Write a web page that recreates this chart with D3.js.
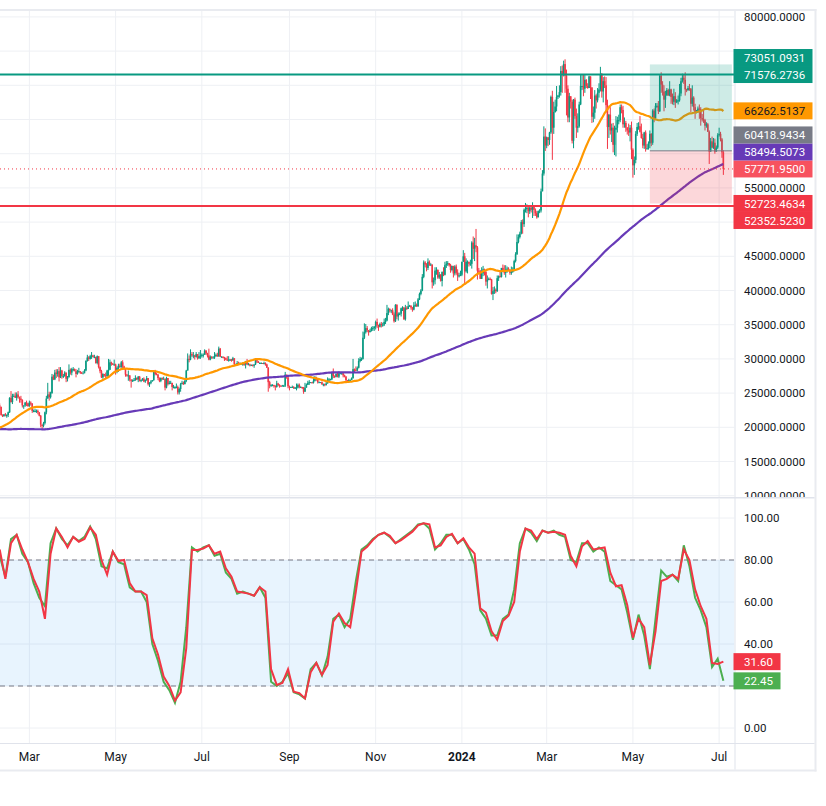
<!DOCTYPE html>
<html>
<head>
<meta charset="utf-8">
<script src="https://cdn.jsdelivr.net/npm/d3@7"></script>
<style>
  body { margin: 0; background: #fff; }
  svg text { font-family: Roboto, "Liberation Sans", sans-serif; }
</style>
</head>
<body>
<div id="chart"></div>
<script>
// ---------------- data (prices in thousand USD, daily) ----------------
var startDate = "2023-02-08";

// closes before the first visible bar (2022-07-24 .. 2023-02-07), only used for the moving averages
var priorCloses = [
  22.6,22.0,21.3,22.9,23.8,23.8,23.6,23.3,
  23.3,22.9,22.8,22.6,23.3,23.2,23.2,23.8,23.2,23.9,23.9,24.4,24.4,24.3,24.1,24.0,23.3,23.2,21.1,21.5,21.5,21.4,21.5,21.4,21.6,20.3,20.0,19.6,20.3,19.8,20.0,
  20.1,19.9,19.8,20.0,19.8,18.8,19.3,19.3,21.4,21.8,21.8,22.4,20.2,20.2,19.7,19.8,20.1,19.4,19.5,19.0,18.5,19.4,19.3,18.9,18.8,19.2,19.1,19.4,19.5,19.4,
  19.3,19.1,19.6,20.3,20.2,19.9,19.5,19.4,19.4,19.1,19.0,19.2,19.4,19.2,19.1,19.3,19.5,19.3,19.1,19.0,19.2,19.2,19.6,19.3,20.1,20.8,20.3,20.6,20.8,20.6,20.5,
  20.5,20.2,20.2,21.2,21.3,20.9,20.6,18.5,15.9,17.6,17.0,16.8,16.3,16.6,16.9,16.7,16.7,16.7,16.7,16.3,15.8,16.2,16.6,16.6,16.5,16.5,16.5,16.2,16.4,17.2,
  17.0,17.1,16.9,17.1,17.0,17.1,16.8,17.2,17.1,17.2,17.1,17.2,17.8,17.8,17.4,16.6,16.8,16.8,16.4,16.9,16.8,16.8,16.8,16.8,16.8,16.9,16.7,16.5,16.6,16.6,16.5,
  16.6,16.7,16.7,16.9,16.8,16.9,16.9,17.1,17.2,17.4,17.9,18.9,19.9,20.9,20.9,21.2,21.1,20.7,21.1,22.7,22.8,22.7,22.9,22.6,23.1,23.0,23.1,23.0,23.7,22.8,23.1,
  23.7,23.5,23.4,23.3,22.9,22.8,23.2
];

var closes = [
  23.0,21.8,21.6,21.9,21.8,21.8,22.2,24.3,23.7,24.6,24.6,24.3,24.8,24.4,24.2,24.0,23.2,23.2,23.6,23.5,23.1,
  23.6,23.5,22.4,22.4,22.4,22.4,22.2,21.7,20.4,20.2,20.6,22.2,24.2,24.8,24.4,25.0,27.4,27.0,28.0,27.8,28.2,27.3,28.3,27.5,27.5,28.0,27.1,27.3,28.4,28.0,28.5,
  28.5,28.2,27.8,28.2,28.2,28.0,27.9,27.9,28.3,29.7,30.2,30.0,30.4,30.5,30.3,30.3,29.4,30.4,28.8,28.2,27.3,27.8,27.6,27.5,28.3,28.4,29.5,29.3,29.2,29.2,
  28.1,28.7,29.0,28.8,29.5,28.9,28.5,27.7,27.6,27.6,27.0,26.8,26.8,26.9,27.2,27.0,27.4,26.8,26.9,27.1,26.7,26.9,27.2,26.3,26.5,26.7,26.9,28.1,27.8,27.7,27.2,
  26.8,27.2,27.1,27.1,25.8,27.2,26.3,26.5,26.5,25.9,25.9,25.9,25.9,25.1,25.6,26.3,26.5,26.3,26.8,28.3,30.0,29.9,30.7,30.5,30.5,30.3,30.7,30.1,30.4,30.5,
  30.6,30.6,31.2,30.8,30.5,29.9,30.3,30.2,30.2,30.4,30.6,30.4,31.5,30.3,30.3,30.2,30.1,29.9,29.8,29.9,29.9,29.8,30.1,29.2,29.2,29.4,29.2,29.3,29.3,29.3,29.2,
  29.7,29.2,29.2,29.1,29.1,29.0,29.2,29.8,29.6,29.4,29.4,29.4,29.3,29.4,29.2,28.7,26.6,26.1,26.2,26.2,26.1,25.9,26.4,26.2,26.1,26.0,26.1,26.1,27.7,27.3,26.0,
  25.8,25.9,25.9,25.8,25.8,25.8,26.2,25.9,25.9,25.8,25.2,25.8,26.2,26.5,26.6,26.6,26.5,26.8,27.2,27.1,26.6,26.6,26.6,26.3,26.3,26.2,26.4,27.0,27.0,27.0,
  28.0,27.5,27.4,27.8,27.4,27.9,27.9,27.9,27.6,27.4,26.9,26.8,26.9,26.9,27.2,28.5,28.4,28.3,28.7,29.7,30.0,30.0,33.1,33.9,34.5,34.2,33.9,34.1,34.5,34.5,34.7,
  35.4,34.9,34.7,35.1,35.0,35.0,35.4,35.6,36.7,37.3,37.1,37.1,36.5,35.5,37.9,36.2,36.6,36.6,37.4,37.5,35.8,37.4,37.3,37.7,37.8,37.5,37.2,37.8,37.9,37.7,
  38.7,39.5,40.0,42.0,44.1,43.8,43.3,44.2,43.8,43.8,41.2,41.5,42.9,43.0,41.9,42.3,41.4,42.7,42.3,43.7,43.9,44.0,43.7,43.0,43.6,42.5,43.5,42.6,42.1,42.2,42.3,
  44.2,45.0,42.8,44.2,44.2,43.9,43.9,47.0,46.1,46.6,46.3,42.9,42.8,41.7,42.5,43.1,42.7,41.3,41.6,41.7,41.6,39.5,39.9,40.1,39.9,41.8,42.1,42.0,43.3,42.9,42.6,
  43.1,43.2,43.0,42.6,42.7,43.1,44.3,45.3,47.1,47.8,48.3,50.0,49.7,51.8,51.9,52.1,51.6,52.1,51.8,52.3,51.8,51.3,50.7,51.6,51.7,54.5,57.1,62.5,61.2,
  62.4,62.0,63.1,68.3,63.8,66.1,66.9,68.3,68.5,69.0,72.1,71.5,73.1,71.4,69.5,65.3,68.4,67.6,61.9,67.9,65.5,63.8,64.0,67.2,69.9,69.9,69.5,70.8,69.9,69.6,71.3,
  69.7,65.4,66.0,68.5,67.8,68.9,69.4,71.6,69.1,70.6,70.0,67.1,63.9,65.7,63.4,63.8,61.3,63.5,63.8,64.9,64.9,66.8,66.4,64.3,64.5,63.8,63.4,63.1,63.8,60.6,
  58.3,59.1,62.9,63.9,64.0,63.2,62.3,61.2,63.1,60.8,60.8,61.5,62.9,61.6,66.3,65.2,67.0,67.0,66.2,71.4,70.1,69.1,67.9,68.5,69.3,68.5,69.4,68.3,67.6,68.4,67.5,
  67.8,67.8,68.8,70.6,71.1,70.8,69.4,69.3,69.6,69.5,67.3,68.2,66.8,66.0,66.2,66.6,66.5,65.2,65.0,64.9,64.1,64.3,63.2,60.3,61.8,60.9,61.6,60.3,60.9,62.7,
  62.9,62.1,60.2,57.77195
];

var highs = [
  23.5,23.0,21.9,21.9,22.1,21.9,22.3,24.4,25.3,24.9,24.9,25.1,25.1,25.3,24.5,24.6,24.1,23.2,23.7,23.9,23.6,
  23.9,23.8,23.5,22.6,22.7,22.6,22.6,22.2,21.8,20.4,20.8,22.3,24.6,26.5,25.2,25.2,27.8,27.7,28.4,28.5,28.5,28.8,28.8,28.4,27.8,28.2,28.0,27.5,29.2,28.6,28.7,
  28.8,28.6,28.5,28.4,28.7,28.2,28.1,28.2,28.5,29.8,30.6,30.4,30.6,31.0,30.6,30.6,30.3,30.5,30.4,28.9,28.4,27.9,27.8,28.0,28.4,30.0,29.9,29.6,29.4,29.9,
  29.3,28.9,29.3,29.3,29.7,29.8,29.0,28.6,27.8,28.3,27.6,26.9,27.0,27.2,27.6,27.3,27.5,27.5,27.0,27.2,27.3,27.0,27.5,27.2,26.6,26.9,26.9,28.2,28.4,28.0,27.8,
  27.3,27.3,27.3,27.4,27.1,27.4,27.2,26.8,26.8,26.5,26.2,26.0,26.4,26.1,25.8,26.5,26.8,26.7,26.9,28.4,30.8,30.5,31.4,31.0,31.0,30.6,31.0,30.7,31.0,31.3,
  30.8,30.8,31.4,31.3,30.9,31.5,30.5,30.4,30.4,31.0,30.8,30.9,31.8,31.6,30.4,30.4,30.3,30.2,30.4,30.4,30.0,30.0,30.3,30.1,29.3,29.7,29.6,29.5,29.4,29.5,29.5,
  29.7,30.0,29.4,29.3,29.2,29.2,29.2,30.1,30.0,29.7,29.5,29.5,29.4,29.6,29.5,29.3,28.8,26.8,26.3,26.3,26.2,26.1,26.8,26.5,26.3,26.1,26.2,26.2,28.1,27.6,27.5,
  26.1,25.9,26.1,26.0,25.9,26.4,26.4,26.4,26.0,25.9,25.9,26.5,26.4,26.8,26.9,26.6,26.6,27.4,27.5,27.4,27.2,26.7,26.6,26.7,26.4,26.4,26.8,27.3,27.2,27.1,
  28.0,28.6,27.6,27.9,28.1,28.2,28.0,28.1,27.9,27.7,27.5,26.9,27.1,27.0,27.3,30.0,28.6,28.9,28.9,30.1,30.3,30.2,34.0,35.2,35.1,34.8,34.2,34.4,34.7,34.8,34.8,
  35.6,35.9,35.0,35.3,35.4,35.3,35.9,36.0,37.9,37.5,37.4,37.2,37.4,36.8,38.0,38.0,36.8,36.8,37.5,37.7,37.6,37.9,37.7,38.4,37.9,37.8,37.6,38.3,38.4,38.1,
  38.9,39.7,40.2,42.4,44.4,44.3,44.0,44.7,44.4,44.0,43.8,41.9,43.4,43.4,43.1,42.7,42.4,42.8,43.4,44.2,44.3,44.3,44.0,43.9,43.6,43.6,43.7,43.8,43.1,42.6,42.9,
  44.2,45.9,45.5,44.7,44.4,44.2,44.5,47.2,47.9,47.7,49.0,46.5,43.3,43.0,43.4,43.6,43.2,42.9,42.2,41.9,41.9,41.7,40.5,40.6,40.3,42.2,42.2,42.8,43.3,43.8,43.7,
  43.7,43.5,43.4,43.1,43.5,43.4,44.5,45.6,48.2,48.2,48.6,50.3,50.4,52.0,52.8,52.6,52.2,52.3,52.5,52.9,52.4,52.0,51.6,51.7,51.9,54.9,57.6,64.0,63.7,
  62.5,62.4,63.2,68.5,69.2,67.6,67.9,69.9,68.6,70.0,72.8,72.9,73.6,73.8,72.3,70.0,68.9,68.1,67.9,68.0,68.2,66.6,65.9,67.6,71.5,71.5,71.6,71.5,70.9,70.3,71.4,
  71.3,69.7,66.9,69.3,68.7,69.6,70.3,72.7,71.8,71.2,71.3,71.2,67.9,65.8,66.8,64.4,64.5,64.1,65.5,65.4,65.7,67.2,67.2,67.0,65.3,64.8,63.9,64.4,64.2,64.7,
  60.8,59.6,63.3,64.5,64.6,65.5,64.4,62.9,63.2,63.4,61.4,61.8,63.4,63.0,66.5,66.6,67.4,67.4,67.7,71.5,71.9,70.6,70.0,69.2,69.6,69.5,70.6,69.5,68.8,69.5,69.0,
  68.0,68.5,70.2,71.1,71.7,71.6,71.9,69.5,69.9,70.2,69.6,70.0,68.4,67.3,66.4,66.9,67.2,66.8,65.8,66.5,65.1,64.6,64.5,63.4,62.3,62.5,62.3,62.2,61.2,63.0,
  63.8,63.2,62.3,60.5
];

var lows = [
  22.7,21.7,21.5,21.6,21.6,21.4,21.5,22.1,23.6,23.4,24.5,24.3,23.9,24.2,23.6,23.6,22.9,22.7,23.0,23.1,23.0,
  23.0,23.2,22.1,22.2,22.2,22.1,21.9,21.6,20.0,19.6,20.0,20.4,21.9,24.2,23.9,24.2,24.9,26.9,26.9,27.2,27.4,26.7,27.2,27.1,27.2,27.4,26.6,26.7,27.3,27.7,27.6,
  28.2,28.2,27.3,27.7,28.0,27.8,27.8,27.9,28.0,28.2,29.6,29.7,29.9,30.0,30.2,30.1,29.3,29.2,28.6,27.9,27.2,27.1,27.4,27.1,27.2,27.3,28.4,29.0,29.1,29.0,
  27.7,27.9,28.1,28.7,28.7,28.4,28.4,27.4,27.4,26.8,26.7,25.8,26.7,26.8,26.8,26.9,26.6,26.7,26.6,26.8,26.6,26.5,26.8,26.1,25.9,26.3,26.7,26.8,27.6,27.6,26.9,
  26.6,26.6,26.9,27.0,25.4,25.7,26.1,26.3,26.4,25.4,25.7,25.6,25.7,24.8,24.8,25.2,26.3,26.2,26.3,26.6,28.3,29.5,29.8,30.3,30.1,29.9,30.2,29.9,30.0,30.0,
  30.2,30.2,30.6,30.6,30.2,29.8,29.8,30.0,30.1,30.0,30.3,30.3,30.3,30.3,30.2,30.1,29.7,29.8,29.7,29.6,29.7,29.6,29.7,29.0,29.0,29.1,29.1,29.1,29.3,29.0,29.0,
  28.6,29.1,29.1,28.9,29.0,28.9,28.7,29.1,29.4,29.4,29.3,29.3,29.3,29.2,29.0,28.7,25.2,25.7,25.9,26.0,25.8,25.4,25.8,26.0,25.8,25.9,26.0,25.9,25.9,27.1,25.7,
  25.4,25.8,25.8,25.6,25.6,25.4,25.7,25.7,25.8,25.6,24.9,25.2,25.8,26.2,26.2,26.5,26.4,26.4,26.7,26.8,26.4,26.5,26.5,26.2,26.0,26.0,26.1,26.4,26.7,26.9,
  26.9,27.2,27.2,27.3,27.3,27.2,27.8,27.7,27.3,27.3,26.6,26.6,26.7,26.8,26.9,27.1,28.1,28.2,28.2,28.6,29.5,29.7,29.9,32.9,33.7,33.9,33.4,33.9,34.0,34.1,34.1,
  34.3,34.5,34.1,34.6,34.6,34.7,34.8,35.1,35.5,36.4,36.8,36.7,36.4,35.3,35.4,35.8,35.6,36.4,36.2,37.0,35.7,35.6,37.2,37.3,37.6,37.2,36.9,37.1,37.6,37.6,
  37.6,38.6,39.3,39.9,41.8,43.4,42.8,43.0,43.6,43.6,40.3,40.7,40.9,42.3,41.7,41.7,41.3,40.6,42.1,42.2,43.3,43.6,43.5,42.6,42.8,41.9,42.2,42.3,41.4,41.9,42.1,
  42.1,44.2,40.8,42.6,42.5,43.5,43.6,43.2,44.6,44.3,45.6,41.6,42.4,41.7,41.7,42.1,42.2,40.7,40.3,41.5,41.5,39.4,38.6,39.5,39.6,39.8,41.4,41.9,41.9,42.7,42.3,
  41.9,42.6,42.9,42.3,42.3,42.6,42.8,44.1,45.2,46.9,47.6,48.2,48.3,49.3,51.4,51.3,50.7,51.2,51.4,50.6,50.9,50.9,50.5,50.9,51.3,51.4,54.5,56.8,60.4,
  60.8,61.1,61.3,62.9,59.1,62.9,66.0,66.2,68.0,68.2,68.5,68.9,71.3,68.9,65.6,64.6,64.6,66.6,61.5,60.8,65.1,62.3,63.1,63.8,67.1,69.3,68.4,68.9,69.6,69.5,69.6,
  68.0,64.5,64.6,65.1,66.6,67.5,68.2,69.1,68.2,67.5,69.6,66.0,60.7,62.3,62.8,61.7,60.2,59.8,59.6,63.1,64.3,64.6,65.9,63.8,63.8,63.2,62.8,62.6,61.8,59.2,
  56.5,56.9,58.6,62.6,63.5,63.1,62.2,60.8,60.7,60.3,60.6,60.6,60.8,61.1,61.3,64.6,65.0,66.7,65.8,66.1,68.9,68.5,66.2,66.7,68.5,68.5,68.4,67.3,67.2,67.1,66.7,
  67.4,67.2,67.6,68.4,70.4,70.2,68.5,69.0,69.2,69.2,66.1,66.9,66.3,65.1,65.9,66.0,65.1,64.1,64.7,64.5,63.4,63.8,63.2,58.5,60.7,60.8,60.7,60.0,60.3,60.7,
  62.5,61.8,59.4,56.9
];

// Stoch RSI read every 4 days from the first bar
var stochStep = 4;
var stochK = [
  82,72,90,92,83,79,69,62,58,88, 95,90,87,91,89,91,96,90,77,76,
  84,79,78,67,65,65,60,40,32,22, 18,12,22,48,86,84,86,87,82,83,
  74,71,64,65,64,63,67,62,22,20, 22,26,17,16,14,28,31,25,34,52,
  54,48,52,70,85,87,90,92,93,91, 88,90,92,94,97,97.5,95,85,88,92,
  92,88,90,85,78,56,52,44,44,52, 54,66,88,95,93,89,94,93,94,92,
  91,80,79,88,88,84,86,84,70,68, 66,55,42,54,44,28,52,75,72,73,
  70,87,77,62,56,48,29,33,22.45
];
var stochD = [
  85,71,88,92,85,79,71,65,52,83, 95,91,86,91,88.7,90,95.5,92,80,73,
  84,79.5,80,69,65,65,63.3,42.7,35,24.5, 20,13,17,38,84.8,84.8,85.5,87,83,84,
  76,72,65,64.5,64,63,67,65,28,20.5, 21.5,28,17.3,16.6,14.1,26.5,31,25.3,30,50.6,
  54.5,50,48,65,84,86.3,89.5,92,93,91.5, 88,89.5,91.5,93.5,96.5,97.5,97,86,87,91,
  92.5,88,90.3,86,83,57,55,46,42,51, 53.5,60,84,95,94,90,94,93,93.5,93,
  92,82,77,86.5,89,85,85.5,86,74,67.5, 68,58.6,43,52,48,30,46,70,71,73,
  71,85,80,66,58,52,31,30.5,31.60
];

// drawn levels and the long position tool
var resistance = 71576.2736;
var support = 52352.5230;
var positionStart = "2024-05-13", positionEnd = "2024-07-10";
var entryPrice = 60418.9434, targetPrice = 73051.0931, stopPrice = 52723.4634;

// values shown on the price scale (in placement priority order)
var labelValues = [71576.2736, 57771.9500, 52723.4634, 73051.0931, 52352.5230, 58494.5073, 60418.9434, 66262.5137];
var stochLabelValues = [31.60, 22.45];

var priceTicks = d3.range(10000, 80001, 5000);
var stochTicks = [0, 20, 40, 60, 80, 100];
var timeTicks = ["2023-03-01","2023-05-01","2023-07-01","2023-09-01","2023-11-01","2024-01-01","2024-03-01","2024-05-01","2024-07-01"];

// ---------------- layout ----------------
var width = 826, height = 806;
var plotRight = 734.5, frameRight = 814.5;
var mainTop = 11, mainBottom = 497;
var stochTop = 499, stochBottom = 743;

var parseDate = d3.utcParse("%Y-%m-%d");
var day0 = parseDate(startDate);
var lastDay = d3.utcDay.offset(day0, closes.length - 1);

var x = d3.scaleUtc().domain([day0, lastDay]).range([-0.3, -0.3 + (closes.length - 1) * 1.4134]);
var y = d3.scaleLinear().domain([10000, 80000]).range([495.7, 16.9]);
var ys = d3.scaleLinear().domain([0, 100]).range([728, 518]);

var allCloses = priorCloses.concat(closes);
var n0 = priorCloses.length;

var candles = closes.map(function(c, i) {
  var o = allCloses[n0 + i - 1];
  return {
    date: d3.utcDay.offset(day0, i),
    open: o * 1000,
    close: c * 1000,
    high: Math.max(highs[i], o, c) * 1000,
    low: Math.min(lows[i], o, c) * 1000
  };
});

function sma(len) {
  return closes.map(function(c, i) {
    var j = n0 + i;
    return { date: candles[i].date, value: d3.mean(allCloses.slice(j - len + 1, j + 1)) * 1000 };
  });
}
var ma50 = sma(50), ma200 = sma(200);

var svg = d3.select("#chart").append("svg")
  .attr("width", width)
  .attr("height", height);

var defs = svg.append("defs");
defs.append("clipPath").attr("id", "clipMain")
  .append("rect").attr("x", 0).attr("y", mainTop).attr("width", plotRight).attr("height", mainBottom - mainTop);
defs.append("clipPath").attr("id", "clipStoch")
  .append("rect").attr("x", 0).attr("y", stochTop).attr("width", plotRight).attr("height", stochBottom - stochTop);
defs.append("clipPath").attr("id", "clipMainAxis")
  .append("rect").attr("x", plotRight).attr("y", mainTop).attr("width", frameRight - plotRight).attr("height", mainBottom - mainTop);

svg.append("rect").attr("width", width).attr("height", height).attr("fill", "#fff");

// frame
var frameColor = "#e9ebf0";
svg.append("rect").attr("x", 0).attr("y", 9).attr("width", frameRight + 2).attr("height", 2).attr("fill", frameColor);
svg.append("rect").attr("x", 0).attr("y", 769.5).attr("width", frameRight + 2).attr("height", 2).attr("fill", frameColor);
svg.append("rect").attr("x", frameRight).attr("y", 9).attr("width", 2).attr("height", 762.5).attr("fill", frameColor);

var gridColor = "#eef0f4";

// ---- main pane ----
var main = svg.append("g").attr("clip-path", "url(#clipMain)");

main.selectAll(".hgrid").data(priceTicks).enter().append("line")
  .attr("x1", 0).attr("x2", plotRight)
  .attr("y1", function(d) { return y(d); }).attr("y2", function(d) { return y(d); })
  .attr("stroke", gridColor).attr("stroke-width", 1);

main.selectAll(".vgrid").data(timeTicks).enter().append("line")
  .attr("x1", function(d) { return x(parseDate(d)); }).attr("x2", function(d) { return x(parseDate(d)); })
  .attr("y1", mainTop).attr("y2", mainBottom)
  .attr("stroke", gridColor).attr("stroke-width", 1);

// candles
var upColor = "#089981", downColor = "#F23645";
var candleG = main.append("g");
candleG.selectAll(".wick").data(candles).enter().append("rect")
  .attr("x", function(d) { return x(d.date) - 0.5; })
  .attr("width", 1)
  .attr("y", function(d) { return y(d.high); })
  .attr("height", function(d) { return Math.max(0.5, y(d.low) - y(d.high)); })
  .attr("fill", function(d) { return d.close >= d.open ? upColor : downColor; });
candleG.selectAll(".body").data(candles).enter().append("rect")
  .attr("x", function(d) { return x(d.date) - 0.8; })
  .attr("width", 1.6)
  .attr("y", function(d) { return y(Math.max(d.open, d.close)); })
  .attr("height", function(d) { return Math.max(1, Math.abs(y(d.open) - y(d.close))); })
  .attr("fill", function(d) { return d.close >= d.open ? upColor : downColor; });

// moving averages
var maLine = d3.line()
  .x(function(d) { return x(d.date); })
  .y(function(d) { return y(d.value); });

main.append("path").datum(ma200)
  .attr("d", maLine).attr("fill", "none")
  .attr("stroke", "#673AB7").attr("stroke-width", 2.2);
main.append("path").datum(ma50)
  .attr("d", maLine).attr("fill", "none")
  .attr("stroke", "#FF9800").attr("stroke-width", 2.2);

// long position tool
var px0 = x(parseDate(positionStart)), px1 = x(parseDate(positionEnd));
main.append("rect")
  .attr("x", px0).attr("width", px1 - px0)
  .attr("y", y(targetPrice)).attr("height", y(entryPrice) - y(targetPrice))
  .attr("fill", "rgba(8,153,129,0.2)");
main.append("rect")
  .attr("x", px0).attr("width", px1 - px0)
  .attr("y", y(entryPrice)).attr("height", y(stopPrice) - y(entryPrice))
  .attr("fill", "rgba(242,54,69,0.2)");
main.append("line")
  .attr("x1", px0).attr("x2", px1)
  .attr("y1", y(entryPrice)).attr("y2", y(entryPrice))
  .attr("stroke", "#787B86").attr("stroke-width", 1);

// horizontal levels
main.append("line")
  .attr("x1", 0).attr("x2", plotRight)
  .attr("y1", y(resistance)).attr("y2", y(resistance))
  .attr("stroke", "#089981").attr("stroke-width", 2);
main.append("line")
  .attr("x1", 0).attr("x2", plotRight)
  .attr("y1", y(support)).attr("y2", y(support))
  .attr("stroke", "#F23645").attr("stroke-width", 2);

// last price line
var lastPrice = candles[candles.length - 1].close;
main.append("line")
  .attr("x1", 0).attr("x2", plotRight)
  .attr("y1", y(lastPrice)).attr("y2", y(lastPrice))
  .attr("stroke", "#F23645").attr("stroke-width", 1)
  .attr("stroke-dasharray", "1,3");

// ---- stoch rsi pane ----
var stoch = svg.append("g").attr("clip-path", "url(#clipStoch)");

stoch.selectAll(".hgrid").data(stochTicks).enter().append("line")
  .attr("x1", 0).attr("x2", plotRight)
  .attr("y1", function(d) { return ys(d); }).attr("y2", function(d) { return ys(d); })
  .attr("stroke", gridColor).attr("stroke-width", 1);
stoch.selectAll(".vgrid").data(timeTicks).enter().append("line")
  .attr("x1", function(d) { return x(parseDate(d)); }).attr("x2", function(d) { return x(parseDate(d)); })
  .attr("y1", stochTop).attr("y2", stochBottom)
  .attr("stroke", gridColor).attr("stroke-width", 1);

stoch.append("rect")
  .attr("x", 0).attr("width", plotRight)
  .attr("y", ys(80)).attr("height", ys(20) - ys(80))
  .attr("fill", "rgba(33,150,243,0.1)");
stoch.selectAll(".band").data([80, 20]).enter().append("line")
  .attr("x1", 0).attr("x2", plotRight)
  .attr("y1", function(d) { return ys(d); }).attr("y2", function(d) { return ys(d); })
  .attr("stroke", "#787B86").attr("stroke-width", 1)
  .attr("stroke-dasharray", "5,4");

var stochLine = d3.line()
  .x(function(d, i) { return x(d3.utcDay.offset(day0, i * stochStep)); })
  .y(function(d) { return ys(d); });

stoch.append("path").datum(stochK)
  .attr("d", stochLine).attr("fill", "none")
  .attr("stroke", "#4CAF50").attr("stroke-width", 2);
stoch.append("path").datum(stochD)
  .attr("d", stochLine).attr("fill", "none")
  .attr("stroke", "#F23645").attr("stroke-width", 2);

// ---- axes and separators ----
svg.append("rect").attr("x", 0).attr("y", mainBottom).attr("width", frameRight).attr("height", 1.5).attr("fill", "#e0e3eb");
svg.append("rect").attr("x", 0).attr("y", stochBottom).attr("width", frameRight).attr("height", 1).attr("fill", "#e0e3eb");
svg.append("rect").attr("x", plotRight).attr("y", mainTop).attr("width", 1).attr("height", 769.5 - mainTop).attr("fill", "#e0e3eb");

var textColor = "#131722";
var fmt4 = d3.format(".4f"), fmt2 = d3.format(".2f");

// ---- price scale labels (placed first so covered ticks can be dropped) ----
var labelColors = ["#089981", "#F7525F", "#F23645", "#089981", "#F23645", "#673AB7", "#787B86", "#FF9800"];
var labelTextColors = ["#fff", "#fff", "#fff", "#fff", "#fff", "#fff", "#fff", "#131722"];
var labelH = 17;

function placeLabels(values, scale) {
  var placed = [];
  values.forEach(function(v, i) {
    var y0 = scale(v), yy = y0;
    for (var k = 0; k < 10; k++) {
      var hit = placed.filter(function(p) { return Math.abs(p.y - yy) < labelH - 0.01; })[0];
      if (!hit) break;
      yy = y0 <= hit.y0 ? hit.y - labelH : hit.y + labelH;
    }
    placed.push({ value: v, y0: y0, y: yy, i: i });
  });
  return placed;
}
function uncovered(ticks, scale, labels) {
  return ticks.filter(function(t) {
    return labels.every(function(l) { return Math.abs(scale(t) - l.y) > labelH / 2 + 6; });
  });
}

var mainLabels = placeLabels(labelValues, y);
var stochLabels = placeLabels(stochLabelValues, ys);

svg.append("g").attr("clip-path", "url(#clipMainAxis)")
  .selectAll("text").data(uncovered(priceTicks, y, mainLabels)).enter().append("text")
  .attr("x", 744).attr("y", function(d) { return y(d); })
  .attr("dy", "0.35em")
  .attr("font-size", "11.5px").attr("fill", textColor)
  .text(function(d) { return fmt4(d); });

svg.append("g").selectAll("text").data(uncovered(stochTicks, ys, stochLabels)).enter().append("text")
  .attr("x", 744).attr("y", function(d) { return ys(d); })
  .attr("dy", "0.35em")
  .attr("font-size", "11.5px").attr("fill", textColor)
  .text(function(d) { return fmt2(d); });

svg.append("g").selectAll("text").data(timeTicks).enter().append("text")
  .attr("x", function(d) { return x(parseDate(d)); })
  .attr("y", 757).attr("dy", "0.35em")
  .attr("text-anchor", "middle")
  .attr("font-size", "12px").attr("fill", textColor)
  .attr("font-weight", function(d) { return parseDate(d).getUTCMonth() === 0 ? "bold" : "normal"; })
  .text(function(d) {
    var dt = parseDate(d);
    return dt.getUTCMonth() === 0 ? d3.utcFormat("%Y")(dt) : d3.utcFormat("%b")(dt);
  });

var lg = svg.append("g").selectAll("g").data(mainLabels).enter().append("g");
lg.append("rect")
  .attr("x", plotRight - 1).attr("width", 79)
  .attr("y", function(d) { return d.y - labelH / 2; }).attr("height", labelH)
  .attr("fill", function(d) { return labelColors[d.i]; });
lg.append("text")
  .attr("x", 744).attr("y", function(d) { return d.y; }).attr("dy", "0.36em")
  .attr("font-size", "11.5px")
  .attr("fill", function(d) { return labelTextColors[d.i]; })
  .text(function(d) { return fmt4(d.value); });

var stochLabelColors = ["#F23645", "#4CAF50"];
var sg = svg.append("g").selectAll("g").data(stochLabels).enter().append("g");
sg.append("rect")
  .attr("x", plotRight - 1).attr("width", 47)
  .attr("y", function(d) { return d.y - labelH / 2; }).attr("height", labelH)
  .attr("fill", function(d) { return stochLabelColors[d.i]; });
sg.append("text")
  .attr("x", 744).attr("y", function(d) { return d.y; }).attr("dy", "0.36em")
  .attr("font-size", "11.5px").attr("fill", "#fff")
  .text(function(d) { return fmt2(d.value); });
</script>
</body>
</html>
